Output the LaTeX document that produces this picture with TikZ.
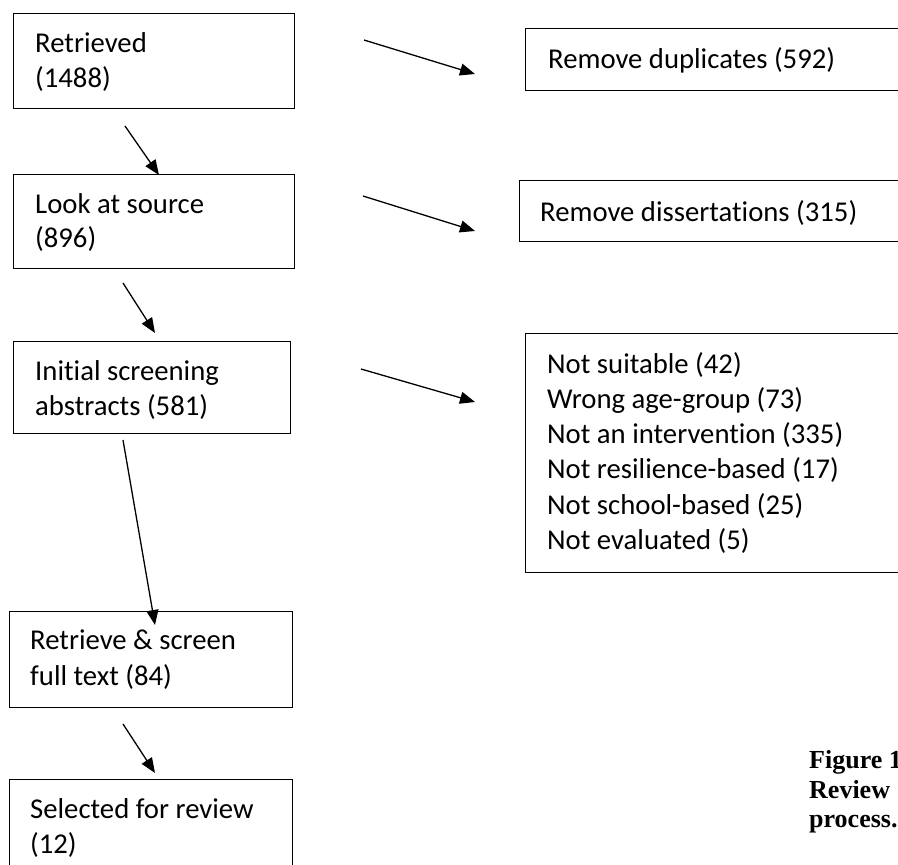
\documentclass[tikz,border=0pt]{standalone}
\usepackage{fontspec}
\setmainfont{Carlito}[Ligatures={NoCommon,NoContextual,NoRequired},RawFeature={-dlig;-calt}]
\newfontfamily\capfont{Liberation Serif}
\usetikzlibrary{arrows.meta}
\newcommand{\nolig}{\kern0pt{}}
\begin{document}
\begin{tikzpicture}[x=1pt,y=-1pt,
 box/.style={draw, line width=1.4pt, rectangle, inner sep=0pt, anchor=north west},
 lbl/.style={anchor=base west, inner sep=0pt, font=\fontsize{28.7}{35}\selectfont},
 arr/.style={line width=1.3pt, -{Triangle[length=15pt,width=12pt]}},
 captext/.style={anchor=base west, inner sep=0pt, font=\capfont\bfseries\fontsize{26}{30}\selectfont}]
\useasboundingbox (0,0) rectangle (898,865);
\clip (0,0) rectangle (898,865);
% left column boxes
\node[box, minimum width=281pt, minimum height=95pt] (b1) at (13,13) {};
\node[box, minimum width=281pt, minimum height=94pt] (b2) at (13,174) {};
\node[box, minimum width=277pt, minimum height=92pt] (b3) at (13,341) {};
\node[box, minimum width=283pt, minimum height=96pt] (b4) at (9,611) {};
\node[box, minimum width=283pt, minimum height=120pt] (b5) at (9,779) {};
% right column boxes
\node[box, minimum width=420pt, minimum height=62pt] (r1) at (525,28) {};
\node[box, minimum width=420pt, minimum height=61pt] (r2) at (519,180) {};
\node[box, minimum width=420pt, minimum height=239pt] (r3) at (525,333) {};
% texts
\node[lbl] (t1a) at (35,52) {Retrieved};
\node[lbl] (t1b) at (35,87) {(1488)};
\node[lbl] (t2a) at (35,213) {Look at source};
\node[lbl] (t2b) at (35,247) {(896)};
\node[lbl] (t3a) at (35,380) {Initial screening};
\node[lbl] (t3b) at (35,415) {abstracts (581)};
\node[lbl] (t4a) at (30,649) {Retrieve \& screen};
\node[lbl] (t4b) at (30,685) {full text (84)};
\node[lbl] (t5a) at (30,818) {Selected for review};
\node[lbl] (t5b) at (30,853) {(12)};
\node[lbl] (tr1) at (548,68) {Remove duplicates (592)};
\node[lbl] (tr2) at (540,221) {Remove dissertat\nolig ions (315)};
\node[lbl] (tr3a) at (547,373) {Not suitable (42)};
\node[lbl] (tr3b) at (547,408) {Wrong age-group (73)};
\node[lbl] (tr3c) at (547,443) {Not an intervent\nolig ion (335)};
\node[lbl] (tr3d) at (547,478) {Not resilience-based (17)};
\node[lbl] (tr3e) at (547,514) {Not school-based (25)};
\node[lbl] (tr3f) at (547,549) {Not evaluated (5)};
% caption
\node[captext] (c1) at (809,768) {Figure 1};
\node[captext] (c2) at (809,798) {Review};
\node[captext] (c3) at (809,827) {process.};
% arrow end points
\coordinate (a1s) at (125,126); \coordinate (a1e) at (159,175);
\coordinate (a2s) at (123,283); \coordinate (a2e) at (155,333);
\coordinate (a3s) at (123,440); \coordinate (a3e) at (155,625);
\coordinate (a4s) at (123,724); \coordinate (a4e) at (155,773);
\coordinate (h1s) at (364,40);  \coordinate (h1e) at (475,74);
\coordinate (h2s) at (363,196); \coordinate (h2e) at (475,231);
\coordinate (h3s) at (361,369); \coordinate (h3e) at (475,402);
\draw[arr] (a1s) -- (a1e);
\draw[arr] (a2s) -- (a2e);
\draw[arr] (a3s) -- (a3e);
\draw[arr] (a4s) -- (a4e);
\draw[arr] (h1s) -- (h1e);
\draw[arr] (h2s) -- (h2e);
\draw[arr] (h3s) -- (h3e);
\end{tikzpicture}
\end{document}
